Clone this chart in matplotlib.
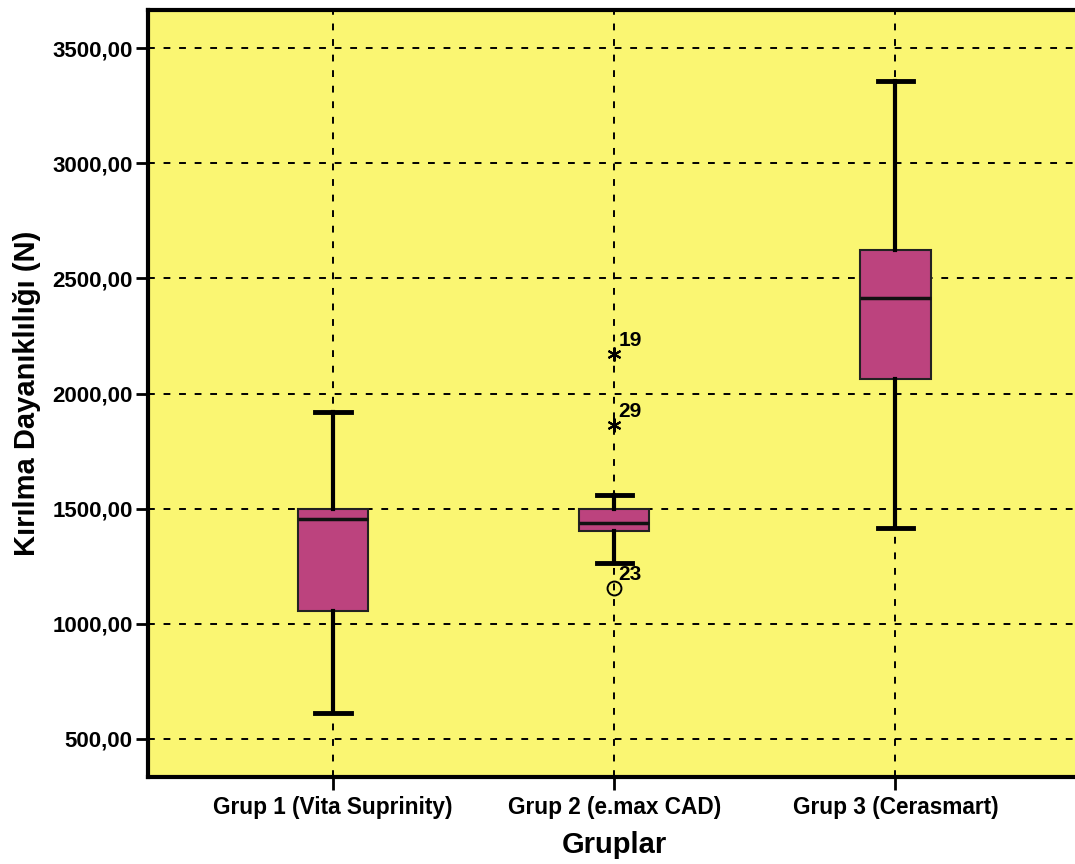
import matplotlib
matplotlib.use("Agg")
import matplotlib.pyplot as plt
from matplotlib.ticker import FuncFormatter

plt.rcParams['font.family'] = ['Liberation Sans', 'DejaVu Sans']
plt.rcParams['font.weight'] = 'bold'

# --- data (SPSS-style boxplot) ---
groups = ["Grup 1 (Vita Suprinity)", "Grup 2 (e.max CAD)", "Grup 3 (Cerasmart)"]
whisker_low = [613, 1264, 1416]
q1 = [1056, 1403, 2063]
median = [1455, 1438, 2415]
q3 = [1500, 1499, 2623]
whisker_high = [1920, 1559, 3357]

# outliers of group 2: (value, case id, marker)
out_values = [1156, 1863, 2172]
out_ids = ["23", "29", "19"]
out_markers = ["o", "*", "*"]

yticks = [500, 1000, 1500, 2000, 2500, 3000, 3500]

BG = '#faf672'
BOX = '#bc437e'

fig = plt.figure(figsize=(10.75, 8.64), dpi=100)
ax = fig.add_axes([148 / 1075, 1 - 777 / 864, (1081 - 148) / 1075, (777 - 10) / 864])
ax.set_facecolor(BG)

stats = []
for i in range(len(groups)):
    stats.append(dict(med=median[i], q1=q1[i], q3=q3[i],
                      whislo=whisker_low[i], whishi=whisker_high[i], fliers=[]))

pos = [1, 2, 3]
ax.bxp(stats, positions=pos, widths=0.25, patch_artist=True, showfliers=False,
       boxprops=dict(facecolor=BOX, edgecolor='#222222', linewidth=1.5),
       medianprops=dict(color='#111111', linewidth=2.5),
       whiskerprops=dict(color='black', linewidth=3),
       capprops=dict(color='black', linewidth=3.5),
       capwidths=0.125, zorder=3)

for v, cid, m in zip(out_values, out_ids, out_markers):
    if m == 'o':
        ax.plot(2, v, marker='o', ms=10, mfc='none', mec='black', mew=1.4, zorder=4)
    else:
        # SPSS extreme value: thin asterisk
        ax.plot(2, v, marker=(6, 2, 0), ms=10, color='black', mew=1.5, zorder=4)
    ax.annotate(cid, (2, v), xytext=(3, 6), textcoords='offset points',
                fontsize=15, fontweight='bold', zorder=5)

ax.set_xlim(0.342, 3.66)
ax.set_ylim(335, 3665)
ax.set_yticks(yticks)
ax.yaxis.set_major_formatter(FuncFormatter(lambda v, p: f"{int(v)},00"))
ax.set_xticks(pos)
ax.set_xticklabels(groups)

ax.grid(True, color='black', linestyle=(0, (3.5, 4.5)), linewidth=1.4, zorder=1)
ax.set_axisbelow(True)
for s in ax.spines.values():
    s.set_linewidth(3)
ax.tick_params(axis='both', direction='out', length=9, width=2, labelsize=16)
ax.tick_params(axis='x', pad=5, labelsize=16.3)
ax.tick_params(axis='y', pad=2)

ax.set_ylabel("Kırılma Dayanıklılığı (N)", fontsize=21, fontweight='bold', labelpad=8)
ax.set_xlabel("Gruplar", fontsize=21, fontweight='bold', labelpad=8)

fig.savefig("out.png", dpi=100)
